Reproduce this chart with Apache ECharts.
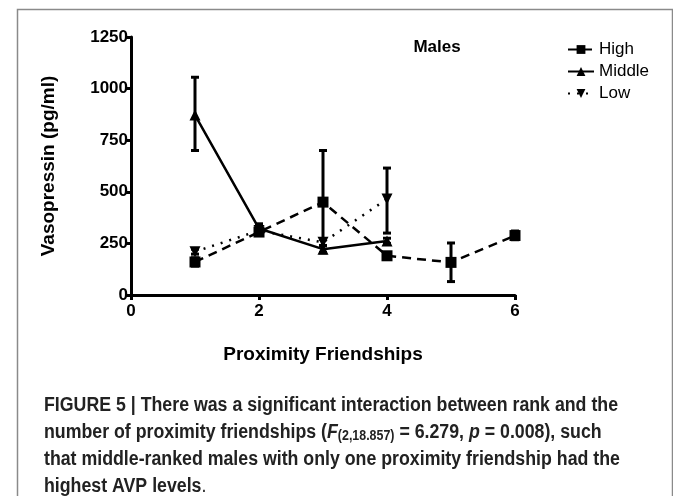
<!DOCTYPE html>
<html>
<head>
<meta charset="utf-8">
<script src="https://cdn.jsdelivr.net/npm/echarts@6/dist/echarts.min.js"></script>
<style>
  html, body { margin: 0; padding: 0; background: #fff; }
  #chart { width: 673px; height: 496px; }
</style>
</head>
<body>
<div id="chart"></div>
<script>
// friendships count on x, vasopressin means on y
const highX = [1, 2, 3, 4, 5, 6];
const highMean = [160, 305, 450, 190, 158, 288];
const highLo = [140, 290, 205, 180, 65, 268];
const highHi = [180, 322, 700, 200, 252, 310];

const middleX = [1, 2, 3, 4];
const middleMean = [872, 322, 222, 262];
const middleLo = [700, 300, 205, 250];
const middleHi = [1055, 345, 238, 275];

const lowX = [1, 2, 3, 4];
const lowMean = [210, 312, 255, 465];
const lowLo = [198, 298, 240, 300];
const lowHi = [222, 326, 270, 615];

const xTicks = [0, 2, 4, 6];

const chart = echarts.init(document.getElementById('chart'));

function pairs(xs, ys) {
    return xs.map((x, i) => [x, ys[i]]);
}
function errData(xs, lo, hi) {
    return xs.map((x, i) => [x, lo[i], hi[i]]);
}

function renderErr(params, api) {
    const x = api.value(0);
    const top = api.coord([x, api.value(2)]);
    const bot = api.coord([x, api.value(1)]);
    const cap = 4;
    const st = { stroke: '#000', lineWidth: 3 };
    return {
        type: 'group',
        children: [
            { type: 'line', shape: { x1: top[0], y1: top[1], x2: bot[0], y2: bot[1] }, style: st },
            { type: 'line', shape: { x1: top[0] - cap, y1: top[1], x2: top[0] + cap, y2: top[1] }, style: st },
            { type: 'line', shape: { x1: bot[0] - cap, y1: bot[1], x2: bot[0] + cap, y2: bot[1] }, style: st }
        ]
    };
}

const font = 'Liberation Sans, Arial, sans-serif';
const capFont = '"Liberation Sans", Arial, sans-serif';

const capLines = [
    'FIGURE 5 | There was a significant interaction between rank and the',
    'number of proximity friendships ({i|F}{s|(2,18.857)} = 6.279, {i|p} = 0.008), such',
    'that middle-ranked males with only one proximity friendship had the',
    'highest AVP levels{d|.}'
];

// squeeze the caption horizontally to look like the condensed journal font
const ctx = document.createElement('canvas').getContext('2d');
ctx.font = 'bold 20px ' + capFont;
const capScale = 574 / ctx.measureText(capLines[0]).width;

const option = {
    animation: false,
    backgroundColor: '#fff',
    grid: { left: 131, right: 158, top: 37, bottom: 201 },
    legend: {
        orient: 'vertical',
        left: 562,
        top: 36,
        itemWidth: 26,
        itemHeight: 11,
        itemGap: 5,
        textStyle: { fontFamily: font, fontSize: 17, color: '#000' },
        data: ['High', 'Middle', 'Low']
    },
    xAxis: {
        type: 'value',
        min: 0, max: 6, interval: 2,
        axisLine: { lineStyle: { color: '#000', width: 3 } },
        axisTick: { show: true, length: 5, lineStyle: { color: '#000', width: 3 } },
        axisLabel: {
            fontFamily: font, fontWeight: 'bold', fontSize: 17, color: '#000', margin: 8,
            customValues: xTicks
        },
        splitLine: { show: false },
        name: 'Proximity Friendships',
        nameLocation: 'middle',
        nameGap: 50,
        nameTextStyle: { fontFamily: font, fontWeight: 'bold', fontSize: 19, color: '#000' }
    },
    yAxis: {
        type: 'value',
        min: 0, max: 1250, interval: 250,
        axisLine: { show: true, lineStyle: { color: '#000', width: 3 } },
        axisTick: { show: true, length: 5, lineStyle: { color: '#000', width: 3 } },
        axisLabel: {
            fontFamily: font, fontWeight: 'bold', fontSize: 17, color: '#000', margin: 3,
            formatter: v => String(v)
        },
        splitLine: { show: false },
        name: 'Vasopressin (pg/ml)',
        nameLocation: 'middle',
        nameGap: 73,
        nameTextStyle: { fontFamily: font, fontWeight: 'bold', fontSize: 19, color: '#000' }
    },
    series: [
        {
            name: 'High', type: 'line',
            data: pairs(highX, highMean),
            symbol: 'rect', symbolSize: 11,
            itemStyle: { color: '#000' },
            lineStyle: { color: '#000', width: 2.5, type: [9, 6] },
            z: 3
        },
        {
            name: 'Middle', type: 'line',
            data: pairs(middleX, middleMean),
            symbol: 'triangle', symbolSize: 11,
            itemStyle: { color: '#000' },
            lineStyle: { color: '#000', width: 2.5, type: 'solid' },
            z: 3
        },
        {
            name: 'Low', type: 'line',
            data: pairs(lowX, lowMean),
            symbol: 'triangle', symbolRotate: 180, symbolSize: 11,
            itemStyle: { color: '#000' },
            lineStyle: { color: '#000', width: 2.5, type: [2, 7] },
            z: 3
        },
        {
            type: 'custom', name: 'highErr', renderItem: renderErr,
            encode: { x: 0, y: [1, 2] }, data: errData(highX, highLo, highHi), z: 4
        },
        {
            type: 'custom', name: 'middleErr', renderItem: renderErr,
            encode: { x: 0, y: [1, 2] }, data: errData(middleX, middleLo, middleHi), z: 4
        },
        {
            type: 'custom', name: 'lowErr', renderItem: renderErr,
            encode: { x: 0, y: [1, 2] }, data: errData(lowX, lowLo, lowHi), z: 4
        }
    ],
    graphic: [
        {
            type: 'rect', left: 15, top: 7, silent: true,
            shape: { width: 655, height: 500 },
            style: { fill: 'none', stroke: '#8a8a8a', lineWidth: 1.5 },
            z: -1
        },
        {
            type: 'text', x: 437, y: 47,
            style: { text: 'Males', font: 'bold 17px ' + font, fill: '#000', align: 'center', verticalAlign: 'middle' }
        },
        {
            type: 'text', x: 44, y: 392, scaleX: capScale,
            style: {
                text: capLines.join('\n'),
                font: 'bold 20px ' + capFont,
                fill: '#222',
                lineHeight: 27,
                rich: {
                    i: { font: 'italic bold 20px ' + capFont, fill: '#222', lineHeight: 27 },
                    s: { font: 'bold 14px ' + capFont, fill: '#222', padding: [8, 0, 0, 0], lineHeight: 27 },
                    d: { font: '20px ' + capFont, fill: '#222', lineHeight: 27 }
                }
            }
        }
    ]
};

chart.setOption(option);
</script>
</body>
</html>
